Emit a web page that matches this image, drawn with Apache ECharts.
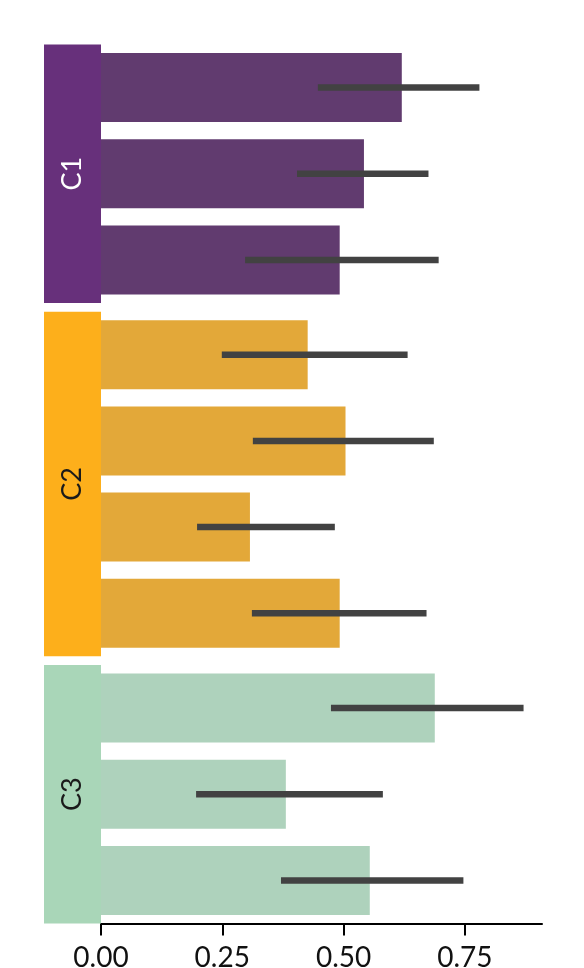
<!DOCTYPE html>
<html>
<head>
<meta charset="utf-8">
<script src="https://cdn.jsdelivr.net/npm/echarts@6/dist/echarts.min.js"></script>
<style>
html,body{margin:0;padding:0;background:#fff;}
#main{width:584px;height:968px;}
</style>
</head>
<body>
<div id="main"></div>
<script>
// ---- data ----
const groups = ['C1', 'C2', 'C3'];
const groupSizes = [3, 4, 3];
const values = [0.620, 0.542, 0.492, 0.426, 0.504, 0.307, 0.492, 0.688, 0.381, 0.554];
const errLow = [0.447, 0.404, 0.297, 0.249, 0.313, 0.198, 0.311, 0.474, 0.196, 0.371];
const errHigh = [0.780, 0.675, 0.696, 0.632, 0.686, 0.482, 0.671, 0.871, 0.581, 0.747];
const xTicks = [0, 0.25, 0.5, 0.75];

// ---- styles ----
const groupBoxColors = ['#67307b', '#fdaf1b', '#a9d6b8'];
const barColors = ['#613b6f', '#e3a839', '#aed2bc'];
const labelColors = ['#ffffff', '#1a1a1a', '#1a1a1a'];
const GAP = 0.1;       // gap between groups, in bar slots
const BAR_W = 0.8;     // bar thickness, in bar slots
const FONT = 'Lato, "DejaVu Sans", sans-serif';

// build y positions (slot coordinates) from the group structure
const barRows = [];
const groupRows = [];
let cursor = 0, k = 0;
groups.forEach((g, gi) => {
  const start = cursor;
  for (let i = 0; i < groupSizes[gi]; i++) {
    barRows.push([values[k], cursor + i + 0.5, gi, errLow[k], errHigh[k]]);
    k++;
  }
  cursor += groupSizes[gi];
  groupRows.push([0, start, cursor, gi]);
  cursor += GAP;
});
const yMax = cursor - GAP;

const chart = echarts.init(document.getElementById('main'), null, {renderer: 'canvas'});
chart.setOption({
  animation: false,
  grid: {left: 101, right: 42, top: 44.5, bottom: 44.5, containLabel: false, outerBoundsMode: 'none'},
  xAxis: {
    type: 'value', min: 0, max: 0.909, interval: 0.25, position: 'bottom',
    axisLine: {show: true, onZero: false, lineStyle: {color: '#000', width: 2}},
    axisTick: {show: true, length: 12, lineStyle: {color: '#000', width: 2}, customValues: xTicks},
    axisLabel: {
      customValues: xTicks,
      formatter: v => v.toFixed(2),
      fontFamily: FONT, fontSize: 28, color: '#111', margin: 20
    },
    splitLine: {show: false}
  },
  yAxis: {type: 'value', min: 0, max: yMax, inverse: true, show: false},
  series: [
    {
      type: 'custom', z: 1,
      data: groupRows,
      renderItem: (params, api) => {
        const gi = api.value(3);
        const top = api.coord([0, api.value(1)]);
        const bot = api.coord([0, api.value(2)]);
        const x1 = top[0];
        const x0 = x1 - 57;
        return {
          type: 'group',
          children: [
            {type: 'rect', shape: {x: x0, y: top[1], width: x1 - x0, height: bot[1] - top[1]},
             style: {fill: groupBoxColors[gi]}},
            {type: 'text', x: (x0 + x1) / 2, y: (top[1] + bot[1]) / 2, rotation: Math.PI / 2,
             style: {text: groups[gi], fill: labelColors[gi], font: '27px ' + FONT,
                     align: 'center', verticalAlign: 'middle'}}
          ]
        };
      }
    },
    {
      type: 'custom', z: 2,
      data: barRows,
      renderItem: (params, api) => {
        const v = api.value(0), y = api.value(1), gi = api.value(2);
        const p0 = api.coord([0, y - BAR_W / 2]);
        const p1 = api.coord([v, y + BAR_W / 2]);
        return {type: 'rect', shape: {x: p0[0], y: p0[1], width: p1[0] - p0[0], height: p1[1] - p0[1]},
                style: {fill: barColors[gi]}};
      }
    },
    {
      type: 'custom', z: 3,
      data: barRows,
      renderItem: (params, api) => {
        const y = api.value(1);
        const a = api.coord([api.value(3), y]);
        const b = api.coord([api.value(4), y]);
        return {type: 'line', shape: {x1: a[0], y1: a[1], x2: b[0], y2: b[1]},
                style: {stroke: '#424242', lineWidth: 6.5}};
      }
    }
  ]
});
</script>
</body>
</html>
